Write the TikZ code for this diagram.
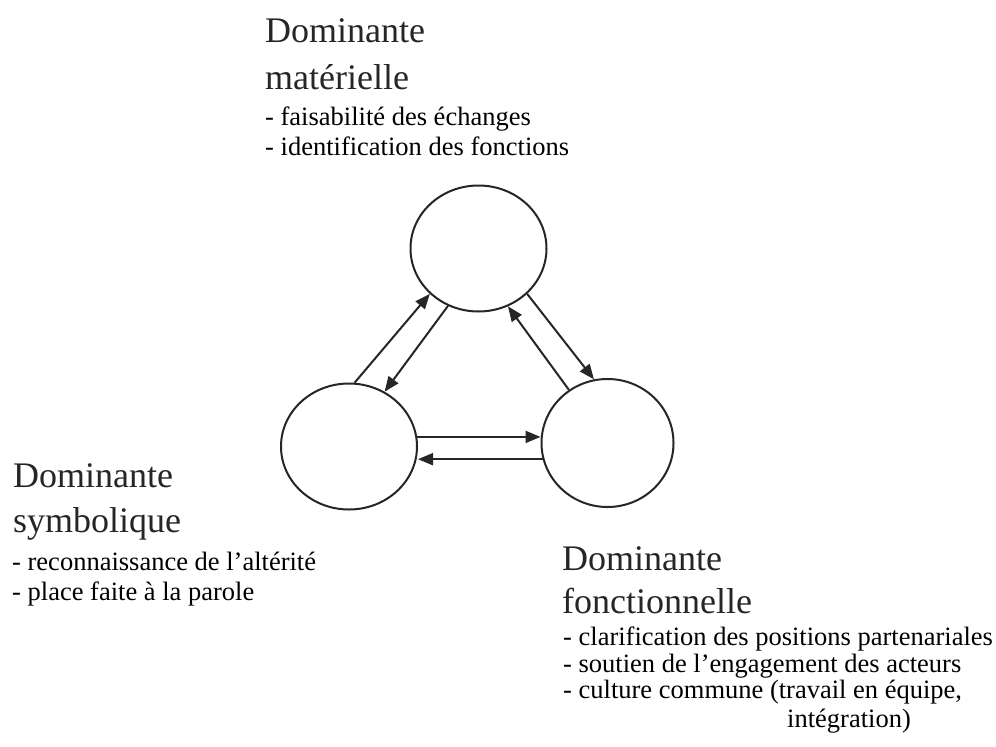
\documentclass[tikz,border=0pt]{standalone}
\usepackage{fontspec}
\setmainfont{Liberation Serif}
\usetikzlibrary{shapes.geometric,arrows.meta}
\begin{document}
\begin{tikzpicture}[x=1pt,y=1pt,
  pole/.style={ellipse,draw=black!85,line width=2pt,minimum width=136pt,minimum height=126pt,inner sep=0pt},
  link/.style={draw=black!85,line width=2pt,-{Triangle[length=15pt,width=12pt]}},
  title/.style={anchor=base west,inner sep=0pt,font=\fontsize{36}{40}\selectfont,text=black!85},
  item/.style={anchor=base west,inner sep=0pt,font=\fontsize{26.5}{30}\selectfont,text=black}]
\useasboundingbox (0,0) rectangle (996,-747);

% the three poles
\node[pole] (top)   at (478.5,-248.5) {};
\node[pole] (left)  at (349,-446.5) {};
\node[pole,minimum width=132pt,minimum height=128pt] (right) at (607.5,-443) {};

% exchanges between the poles
\draw[link] (left.85) -- (top.223);
\draw[link] (top.242) -- (left.57);
\draw[link] (top.317) -- (right.102);
\draw[link] (right.126) -- (top.297);
\draw[link] (left.8) -- (right.west |- left.8);
\draw[link] (right.194) -- (left.east |- right.194);

% material dominant
\node[title] (t1a) at (265,-42) {Dominante};
\node[title] (t1b) at (265,-89) {matérielle};
\node[item]  (t1c) at (265,-125) {- faisabilité des échanges};
\node[item]  (t1d) at (265,-155) {- identification des fonctions};

% symbolic dominant
\node[title] (t2a) at (13,-487) {Dominante};
\node[title] (t2b) at (13,-532) {symbolique};
\node[item]  (t2c) at (12,-570) {- reconnaissance de l'altérité};
\node[item]  (t2d) at (12,-600) {- place faite à la parole};

% functional dominant
\node[title] (t3a) at (562,-570) {Dominante};
\node[title] (t3b) at (562,-613) {fonctionnelle};
\node[item]  (t3c) at (563,-645) {- clarification des positions partenariales};
\node[item]  (t3d) at (563,-672) {- soutien de l'engagement des acteurs};
\node[item]  (t3e) at (563,-698) {- culture commune (travail en équipe,};
\node[item]  (t3f) at (787,-727) {intégration)};
\end{tikzpicture}
\end{document}
